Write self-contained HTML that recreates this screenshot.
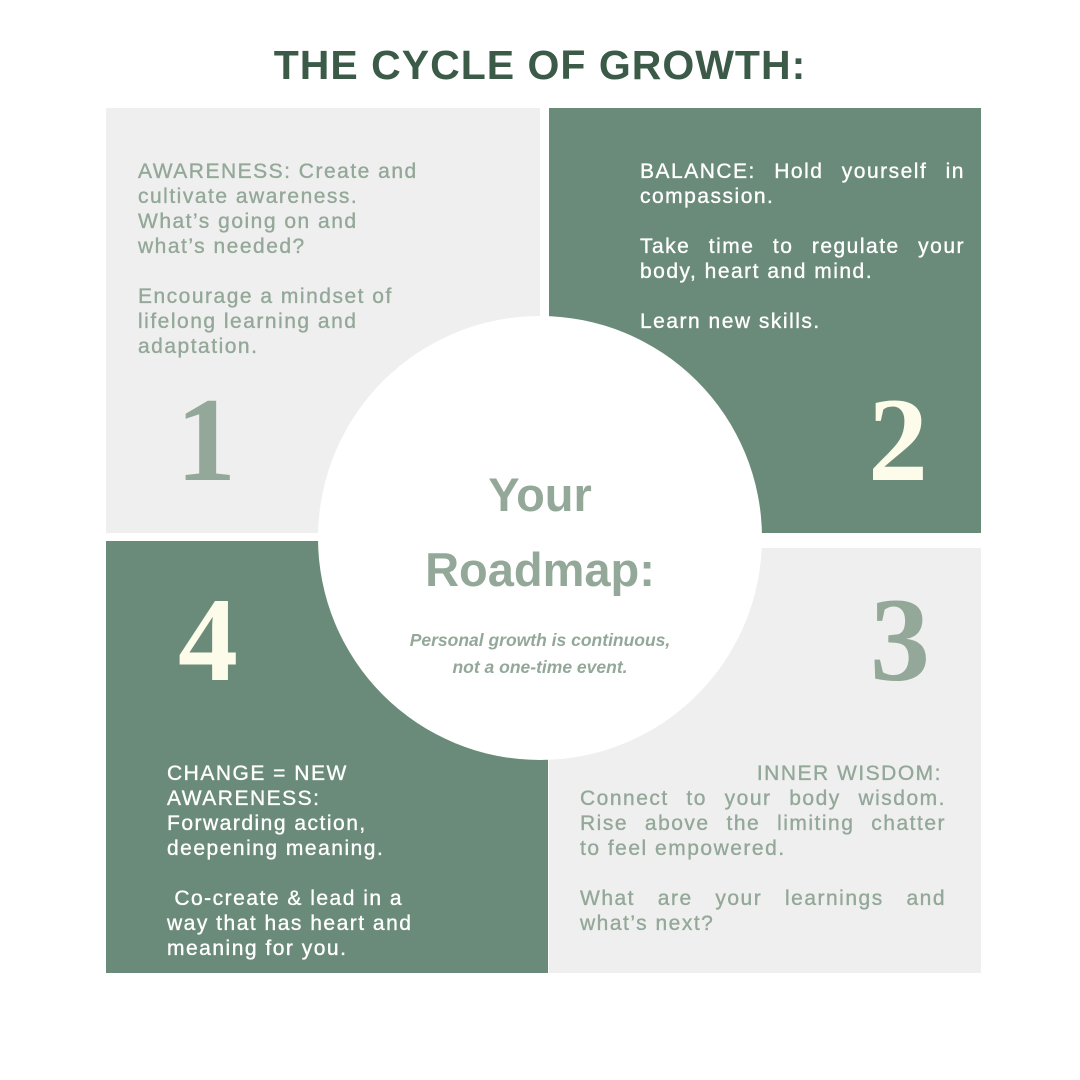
<!DOCTYPE html>
<html><head><meta charset="utf-8"><style>
body{margin:0;width:1080px;height:1080px;background:#fff;position:relative;overflow:hidden;font-family:"Liberation Sans",sans-serif}
.b{position:absolute}
.t{position:absolute;font-size:21px;line-height:25px;white-space:nowrap;letter-spacing:1.5px;-webkit-text-stroke:0.35px currentColor}
.g{color:#93a898}.w{color:#fff}
.j{text-align:justify;text-align-last:justify;white-space:normal}
.n{position:absolute;font-family:"Liberation Serif",serif;font-weight:bold;font-size:120px;line-height:1}
</style></head><body>
<div class="b" style="left:0;right:0;top:42px;text-align:center;font-size:41px;font-weight:bold;color:#3b5a48;letter-spacing:1px">THE CYCLE OF GROWTH:</div>
<div class="b" style="left:106px;top:108px;width:434px;height:425px;background:#efefef"></div>
<div class="b" style="left:549px;top:108px;width:432px;height:425px;background:#6b8b7a"></div>
<div class="b" style="left:106px;top:541px;width:442px;height:432px;background:#6b8b7a"></div>
<div class="b" style="left:549px;top:548px;width:432px;height:425px;background:#efefef"></div>
<div class="b" style="left:318px;top:316px;width:444px;height:444px;border-radius:50%;background:#fff"></div>

<div class="t g" style="left:138px;top:159px">AWARENESS: Create and<br>cultivate awareness.<br>What’s going on and<br>what’s needed?<br><br>Encourage a mindset of<br>lifelong learning and<br>adaptation.</div>
<div class="t w" style="left:640px;top:159px;width:325px">
<div class="j">BALANCE: Hold yourself in</div>compassion.<br><br><div class="j">Take time to regulate your</div>body, heart and mind.<br><br>Learn new skills.</div>
<div class="t w" style="left:167px;top:761px">CHANGE = NEW<br>AWARENESS:<br>Forwarding action,<br>deepening meaning.<br><br>&nbsp;Co-create &amp; lead in a<br>way that has heart and<br>meaning for you.</div>
<div class="t g" style="left:580px;top:761px;width:366px">
<div style="text-align:right;padding-right:4px">INNER WISDOM:</div><div class="j">Connect to your body wisdom.</div><div class="j">Rise above the limiting chatter</div>to feel empowered.<br><br><div class="j">What are your learnings and</div>what’s next?</div>

<div class="n" style="left:176px;top:380px;color:#93a898">1</div>
<div class="n" style="left:868px;top:380px;color:#fdfbea">2</div>
<div class="n" style="left:870px;top:580px;color:#93a898">3</div>
<div class="n" style="left:178px;top:580px;color:#fdfbea">4</div>

<div class="b g" style="left:318px;width:444px;top:468px;text-align:center;font-weight:bold;font-size:47px;line-height:54px">Your</div>
<div class="b g" style="left:318px;width:444px;top:543px;text-align:center;font-weight:bold;font-size:47px;line-height:54px">Roadmap:</div>
<div class="b g" style="left:318px;width:444px;top:627px;text-align:center;font-weight:bold;font-style:italic;font-size:17.5px;line-height:27px">Personal growth is continuous,<br>not a one-time event.</div>
</body></html>
